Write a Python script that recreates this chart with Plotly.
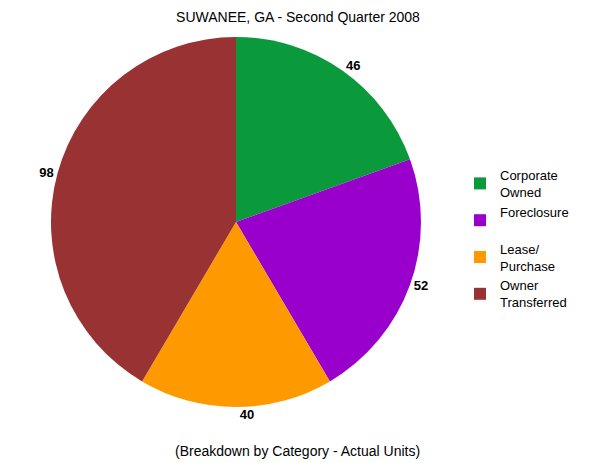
import plotly.graph_objects as go

categories = ["Corporate<br>Owned", "Foreclosure<br> ", "Lease/<br>Purchase", "Owner<br>Transferred"]
units = [46, 52, 40, 98]
colors = ["#0A9A3C", "#9900CC", "#FF9900", "#993333"]

W, H = 600, 463
# the page puts the plot 8px in from the top-left corner
off = 8
cx, cy, r = 236 - off, 222 - off, 185

fig = go.Figure(
    data=[go.Pie(
        labels=categories,
        values=units,
        sort=False,
        direction="clockwise",
        rotation=0,
        marker=dict(colors=colors, line=dict(width=0)),
        textinfo="value",
        textposition="outside",
        textfont=dict(family="Liberation Sans, Arial", size=13, color="black", weight="bold"),
        domain=dict(x=[(cx - r) / W, (cx + r) / W], y=[1 - (cy + r) / H, 1 - (cy - r) / H]),
        hoverinfo="label+value",
    )]
)

fig.update_layout(
    width=W,
    height=H,
    margin=dict(l=0, r=0, t=0, b=0),
    paper_bgcolor="white",
    font=dict(family="Liberation Sans, Arial", size=14, color="black"),
    title=dict(text="SUWANEE, GA - Second Quarter 2008", x=(298 - off) / W, xanchor="center",
               y=1 - (17 - off) / H, yanchor="middle", font=dict(size=14)),
    legend=dict(x=(460 - off) / W, y=1 - (160 - off) / H, xanchor="left", yanchor="top",
                font=dict(size=13), itemwidth=30),
    annotations=[dict(text="(Breakdown by Category - Actual Units)", x=(297 - off) / W,
                      y=1 - 453 / H, xref="paper", yref="paper",
                      showarrow=False, font=dict(size=14))],
)

fig.write_html("out.html")
